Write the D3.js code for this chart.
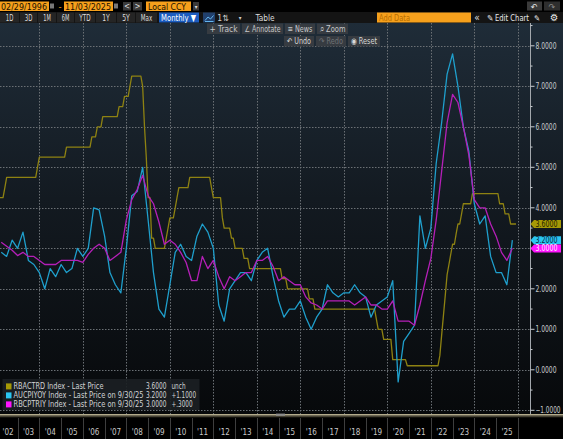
<!DOCTYPE html>
<html>
<head>
<meta charset="utf-8">
<script src="https://cdn.jsdelivr.net/npm/d3@7"></script>
<style>
  html, body { margin: 0; padding: 0; background: #000; overflow: hidden; }
  svg { display: block; font-family: "Liberation Sans Narrow", "DejaVu Sans Condensed", "Liberation Sans", sans-serif; }
</style>
</head>
<body>
<div id="canvas"></div>
<script>
console.clear();

// ---- data ----
const firstYear = 2002;

// RBACTRD, month-end, Jan 2002 .. Nov 2025
const rbaCashRate = [
  4.25, 4.25, 4.25, 4.25, 4.5, 4.75, 4.75, 4.75, 4.75, 4.75, 4.75, 4.75, // 2002
  4.75, 4.75, 4.75, 4.75, 4.75, 4.75, 4.75, 4.75, 4.75, 4.75, 5.0, 5.25, // 2003
  5.25, 5.25, 5.25, 5.25, 5.25, 5.25, 5.25, 5.25, 5.25, 5.25, 5.25, 5.25, // 2004
  5.25, 5.25, 5.5, 5.5, 5.5, 5.5, 5.5, 5.5, 5.5, 5.5, 5.5, 5.5, // 2005
  5.5, 5.5, 5.5, 5.5, 5.75, 5.75, 5.75, 6.0, 6.0, 6.0, 6.25, 6.25, // 2006
  6.25, 6.25, 6.25, 6.25, 6.25, 6.25, 6.25, 6.5, 6.5, 6.5, 6.75, 6.75, // 2007
  6.75, 7.0, 7.25, 7.25, 7.25, 7.25, 7.25, 7.25, 7.0, 6.0, 5.25, 4.25, // 2008
  4.25, 3.25, 3.25, 3.0, 3.0, 3.0, 3.0, 3.0, 3.0, 3.25, 3.5, 3.75, // 2009
  3.75, 3.75, 4.0, 4.25, 4.5, 4.5, 4.5, 4.5, 4.5, 4.5, 4.75, 4.75, // 2010
  4.75, 4.75, 4.75, 4.75, 4.75, 4.75, 4.75, 4.75, 4.75, 4.75, 4.5, 4.25, // 2011
  4.25, 4.25, 4.25, 4.25, 3.75, 3.5, 3.5, 3.5, 3.5, 3.25, 3.25, 3.0, // 2012
  3.0, 3.0, 3.0, 3.0, 2.75, 2.75, 2.75, 2.5, 2.5, 2.5, 2.5, 2.5, // 2013
  2.5, 2.5, 2.5, 2.5, 2.5, 2.5, 2.5, 2.5, 2.5, 2.5, 2.5, 2.5, // 2014
  2.5, 2.25, 2.25, 2.25, 2.0, 2.0, 2.0, 2.0, 2.0, 2.0, 2.0, 2.0, // 2015
  2.0, 2.0, 2.0, 2.0, 1.75, 1.75, 1.75, 1.5, 1.5, 1.5, 1.5, 1.5, // 2016
  1.5, 1.5, 1.5, 1.5, 1.5, 1.5, 1.5, 1.5, 1.5, 1.5, 1.5, 1.5, // 2017
  1.5, 1.5, 1.5, 1.5, 1.5, 1.5, 1.5, 1.5, 1.5, 1.5, 1.5, 1.5, // 2018
  1.5, 1.5, 1.5, 1.5, 1.5, 1.25, 1.0, 1.0, 1.0, 0.75, 0.75, 0.75, // 2019
  0.75, 0.75, 0.25, 0.25, 0.25, 0.25, 0.25, 0.25, 0.25, 0.25, 0.1, 0.1, // 2020
  0.1, 0.1, 0.1, 0.1, 0.1, 0.1, 0.1, 0.1, 0.1, 0.1, 0.1, 0.1, // 2021
  0.1, 0.1, 0.1, 0.1, 0.35, 0.85, 1.35, 1.85, 2.35, 2.6, 2.85, 3.1, // 2022
  3.1, 3.35, 3.6, 3.6, 3.85, 4.1, 4.1, 4.1, 4.1, 4.1, 4.35, 4.35, // 2023
  4.35, 4.35, 4.35, 4.35, 4.35, 4.35, 4.35, 4.35, 4.35, 4.35, 4.35, 4.35, // 2024
  4.35, 4.1, 4.1, 4.1, 3.85, 3.85, 3.85, 3.6, 3.6, 3.6, 3.6 // 2025
];

// AUCPIYOY, quarter-end, Q1 2002 .. Q3 2025
const cpiHeadline = [
  2.9, 2.8, 3.2, 3.0,   // 2002
  3.4, 2.7, 2.6, 2.4,   // 2003
  2.0, 2.5, 2.3, 2.6,   // 2004
  2.4, 2.5, 3.0, 2.8,   // 2005
  3.0, 4.0, 3.95, 3.3,  // 2006
  2.4, 2.1, 1.9, 3.0,   // 2007
  4.3, 4.4, 5.0, 3.7,   // 2008
  2.4, 1.5, 1.3, 2.1,   // 2009
  2.9, 3.1, 2.8, 2.7,   // 2010
  3.3, 3.6, 3.4, 3.0,   // 2011
  1.6, 1.2, 2.0, 2.2,   // 2012
  2.4, 2.4, 2.2, 2.7,   // 2013
  2.9, 3.0, 2.3, 1.7,   // 2014
  1.3, 1.5, 1.5, 1.7,   // 2015
  1.3, 1.0, 1.3, 1.5,   // 2016
  2.1, 1.9, 1.8, 1.9,   // 2017
  1.9, 2.1, 1.9, 1.8,   // 2018
  1.3, 1.6, 1.7, 1.8,   // 2019
  2.2, -0.3, 0.7, 0.9,  // 2020
  1.1, 3.8, 3.0, 3.5,   // 2021
  5.1, 6.1, 7.3, 7.8,   // 2022
  7.0, 6.0, 5.4, 4.1,   // 2023
  3.6, 3.8, 2.8, 2.4,   // 2024
  2.4, 2.1, 3.2         // 2025
];

// RBCPTRIY, quarter-end, Q1 2002 .. Q3 2025
const cpiTrimmed = [
  3.15, 3.05, 2.95, 2.82, // 2002
  2.9, 2.8, 2.8, 2.7,     // 2003
  2.6, 2.6, 2.6, 2.7,     // 2004
  2.7, 2.7, 2.7, 2.65,    // 2005
  2.85, 3.0, 3.1, 3.0,    // 2006
  2.7, 2.8, 2.9, 3.7,     // 2007
  4.2, 4.45, 4.8, 4.3,    // 2008
  4.1, 3.65, 3.1, 3.2,    // 2009
  3.1, 2.9, 2.65, 2.2,    // 2010
  2.2, 2.8, 2.5, 2.7,     // 2011
  2.3, 2.0, 2.3, 2.2,     // 2012
  2.3, 2.4, 2.4, 2.7,     // 2013
  2.7, 2.8, 2.55, 2.2,    // 2014
  2.3, 2.2, 2.1, 2.1,     // 2015
  1.8, 1.65, 1.6, 1.5,    // 2016
  1.7, 1.7, 1.7, 1.7,     // 2017
  1.7, 1.6, 1.7, 1.8,     // 2018
  1.6, 1.6, 1.5, 1.5,     // 2019
  1.7, 1.2, 1.2, 1.2,     // 2020
  1.1, 1.6, 2.2, 2.75,    // 2021
  3.7, 4.9, 6.1, 6.8,     // 2022
  6.6, 6.0, 5.3, 4.2,     // 2023
  4.0, 4.0, 3.6, 3.3,     // 2024
  2.9, 2.7, 3.0           // 2025
];

const yTicks = [-1, 0, 1, 2, 3, 4, 5, 6, 7, 8];
const yearLabels = ["'02", "'03", "'04", "'05", "'06", "'07", "'08", "'09", "'10", "'11", "'12", "'13",
  "'14", "'15", "'16", "'17", "'18", "'19", "'20", "'21", "'22", "'23", "'24", "'25"];

const seriesNames = [
  "RBACTRD Index - Last Price",
  "AUCPIYOY Index - Last Price on 9/30/25",
  "RBCPTRIY Index - Last Price on 9/30/25"
];
const lastValues = [3.6, 3.2, 3.0];
const changes = ["unch", "+1.1000", "+.3000"];

const rangeButtons = ["1D", "3D", "1M", "6M", "YTD", "1Y", "5Y", "Max"];

// ---- styles ----
const lineColors = ["#8e8212", "#1f9fcc", "#b51fb8"];
const tagColors = ["#a69a06", "#2ac6f2", "#ff14ff"];
const tagText = ["#1e1c00", "#06263a", "#ffe4ff"];
const orange = "#f6a01c";

render();

// squeeze a text to a given width (the screen font is narrower than ours)
function fit(sel, w) {
  return sel.attr("textLength", w).attr("lengthAdjust", "spacingAndGlyphs");
}

function render() {
  const W = 563, H = 439;
  const plotTop = 23, plotBottom = 414, plotRight = 530.5;

  const svg = d3.select("#canvas").append("svg")
    .attr("width", W).attr("height", H);

  const defs = svg.append("defs");
  const grad = defs.append("linearGradient")
    .attr("id", "bg").attr("x1", 0).attr("y1", 0).attr("x2", 0).attr("y2", 1);
  grad.append("stop").attr("offset", "0%").attr("stop-color", "#1f2c38");
  grad.append("stop").attr("offset", "45%").attr("stop-color", "#131a21");
  grad.append("stop").attr("offset", "100%").attr("stop-color", "#07090b");

  defs.append("clipPath").attr("id", "plot")
    .append("rect").attr("x", 0).attr("y", plotTop).attr("width", plotRight).attr("height", plotBottom - plotTop);

  svg.append("rect").attr("width", W).attr("height", H).attr("fill", "#000");
  svg.append("rect")
    .attr("x", 0).attr("y", plotTop).attr("width", W).attr("height", plotBottom - plotTop)
    .attr("fill", "url(#bg)");

  // scales
  const x = d3.scaleTime()
    .domain([new Date(2004, 0, 1), new Date(2026, 0, 1)])
    .range([39.4, 517.9]);
  const y = d3.scaleLinear().domain([0, 8]).range([369.8, 45.8]);

  // grid
  const grid = svg.append("g").attr("clip-path", "url(#plot)");
  grid.selectAll(".hgrid").data(yTicks).join("line")
    .attr("x1", 0).attr("x2", plotRight)
    .attr("y1", d => Math.round(y(d)) + 0.5).attr("y2", d => Math.round(y(d)) + 0.5)
    .attr("stroke", "#6b7075").attr("stroke-width", 1).attr("stroke-dasharray", "1.5,1.5");
  const gridYears = d3.timeYear.every(2).range(new Date(2002, 0, 1), new Date(2027, 0, 1));
  grid.selectAll(".vgrid").data(gridYears).join("line")
    .attr("x1", d => Math.round(x(d)) + 0.5).attr("x2", d => Math.round(x(d)) + 0.5)
    .attr("y1", plotTop).attr("y2", plotBottom)
    .attr("stroke", "#6b7075").attr("stroke-width", 1).attr("stroke-dasharray", "1.5,1.5");

  // series
  const monthly = rbaCashRate.map((v, i) => ({ date: new Date(firstYear, i + 1, 0), value: v }));
  const quarterly = arr => arr.map((v, i) => ({ date: new Date(firstYear, 3 * i + 3, 0), value: v }));
  const series = [monthly, quarterly(cpiHeadline), quarterly(cpiTrimmed)];

  const line = d3.line().x(d => x(d.date)).y(d => y(d.value));
  const lines = svg.append("g").attr("clip-path", "url(#plot)");
  lines.selectAll(".series").data(series).join("path")
    .attr("d", line)
    .attr("fill", "none")
    .attr("stroke", (d, i) => lineColors[i])
    .attr("stroke-width", 1.3)
    .attr("stroke-linejoin", "round");

  // right axis
  const axis = svg.append("g");
  axis.append("line")
    .attr("x1", plotRight).attr("x2", plotRight).attr("y1", plotTop).attr("y2", plotBottom)
    .attr("stroke", "#a3a8ad").attr("stroke-width", 1);
  const minor = d3.range(-1, 8.6, 0.5);
  axis.selectAll(".minor").data(minor).join("line")
    .attr("x1", plotRight).attr("x2", d => Number.isInteger(d) ? plotRight + 4 : plotRight + 2)
    .attr("y1", d => y(d)).attr("y2", d => y(d))
    .attr("stroke", "#c8ccd0").attr("stroke-width", 1);
  axis.selectAll(".ylab").data(yTicks).join("text")
    .attr("x", plotRight + 5).attr("y", d => y(d) + 2.8)
    .attr("font-size", 8).attr("fill", "#c9cbcd")
    .attr("textLength", d => d < 0 ? 25 : 21).attr("lengthAdjust", "spacingAndGlyphs")
    .text(d => d3.format(".4f")(d));

  // last value tags
  const tagY = lastValues.map(v => y(v));
  for (let i = 1; i < tagY.length; i++) {
    if (tagY[i] - tagY[i - 1] < 8.2) tagY[i] = tagY[i - 1] + 8.2;
  }
  const tags = svg.append("g");
  lastValues.forEach((v, i) => {
    const ty = tagY[i];
    tags.append("path")
      .attr("d", `M${plotRight},${ty} L${plotRight + 3.5},${ty - 4} L561,${ty - 4} L561,${ty + 4} L${plotRight + 3.5},${ty + 4} Z`)
      .attr("fill", tagColors[i]);
    fit(tags.append("text")
      .attr("x", 535.5).attr("y", ty + 3)
      .attr("font-size", 8.5)
      .attr("fill", tagText[i])
      .text(d3.format(".4f")(v)), 22);
  });

  // legend
  const legend = svg.append("g");
  legend.append("rect")
    .attr("x", 2.5).attr("y", 379).attr("width", 197).attr("height", 31)
    .attr("fill", "#1b1f23").attr("opacity", 0.92);
  seriesNames.forEach((name, i) => {
    const ly = 386.4 + i * 9;
    legend.append("rect").attr("x", 6).attr("y", ly - 3).attr("width", 5.5).attr("height", 6)
      .attr("fill", tagColors[i]);
    fit(legend.append("text").attr("x", 13.5).attr("y", ly + 2.8)
      .attr("font-size", 8.2).attr("fill", "#d2d4d6").text(name), i === 0 ? 90 : 130);
    fit(legend.append("text").attr("x", 146).attr("y", ly + 2.8)
      .attr("font-size", 8.2).attr("fill", "#d2d4d6").text(d3.format(".4f")(lastValues[i])), 20.5);
    fit(legend.append("text").attr("x", 171.5).attr("y", ly + 2.8)
      .attr("font-size", 8.2).attr("fill", "#d2d4d6").text(changes[i]), changes[i].length * 3.5);
  });

  // bottom time strip
  svg.append("rect").attr("x", 0).attr("y", 414).attr("width", W).attr("height", 1.6).attr("fill", "#b3ab8c");
  svg.append("rect").attr("x", 0).attr("y", 416.2).attr("width", W).attr("height", 1).attr("fill", "#55503f");
  svg.append("rect").attr("x", 276).attr("y", 413.6).attr("width", 9).attr("height", 2.2).attr("fill", "#8d8d8d");
  const strip = svg.append("g");
  const yearStarts = yearLabels.map((d, i) => new Date(firstYear + i, 0, 1));
  strip.selectAll(".sep").data(yearStarts.slice(1).concat([new Date(2026, 0, 1)])).join("line")
    .attr("x1", d => Math.round(x(d)) + 0.5).attr("x2", d => Math.round(x(d)) + 0.5)
    .attr("y1", 418).attr("y2", H)
    .attr("stroke", "#3e3e3e").attr("stroke-width", 1);
  strip.selectAll(".yl").data(yearLabels).join("text")
    .attr("x", (d, i) => Math.max(8, (x(yearStarts[i]) + x(new Date(firstYear + i + 1, 0, 1))) / 2))
    .attr("y", 435)
    .attr("text-anchor", "middle").attr("font-size", 8).attr("fill", "#c8c8c8")
    .text(d => d);

  // ---- toolbar ----
  const tb = svg.append("g").attr("font-size", 9.5);
  function box(x0, y0, w, h, fill) {
    return tb.append("rect").attr("x", x0).attr("y", y0).attr("width", w).attr("height", h).attr("fill", fill);
  }
  function label(x0, y0, txt, fill, anchor, size, w) {
    const t = tb.append("text").attr("x", x0).attr("y", y0).attr("fill", fill)
      .attr("text-anchor", anchor || "start").attr("font-size", size || 9.5).text(txt);
    return w ? fit(t, w) : t;
  }
  // row 1
  box(0, 1.5, 49, 9.5, orange);
  label(1, 9.8, "02/29/1996", "#1a1000", "start", 9.5, 46);
  box(50, 3.5, 4, 5, "#777");
  label(60, 9.5, "-", orange, "middle");
  box(64, 1.5, 49, 9.5, orange);
  label(65, 9.8, "11/03/2025", "#1a1000", "start", 9.5, 46);
  box(114, 3.5, 4, 5, "#777");
  box(123, 2, 8, 8.5, "#3a3a3a"); label(127, 9.2, "<", "#ddd", "middle", 8);
  box(133, 2, 9, 8.5, "#3a3a3a"); label(137.5, 9.2, ">", "#ddd", "middle", 8);
  box(146, 1.5, 45, 9.5, orange);
  label(148, 9.8, "Local CCY", "#1a1000", "start", 9.5, 38);
  box(193, 2, 6, 8.5, "#3a3a3a"); label(196, 8.8, "▾", "#ddd", "middle", 6);
  box(527, 1.5, 15, 9, "#3a3a3a"); label(534.5, 9.5, "↶", "#e6e6e6", "middle", 9);
  box(544, 1.5, 16, 9, "#2e2e2e"); label(552, 9.5, "↷", "#888", "middle", 9);

  // row 2
  box(0, 12, W, 11, "#141414");
  const btnEdges = [0, 20, 38, 57, 75, 96, 117, 136, 158];
  rangeButtons.forEach((b, i) => {
    box(btnEdges[i], 12.5, btnEdges[i + 1] - btnEdges[i] - 1, 10, "#252525");
    label((btnEdges[i] + btnEdges[i + 1] - 1) / 2, 20.8, b, "#dcdcdc", "middle", 9, b.length * 3.8);
  });
  box(159, 12.5, 40, 10, "#1b5cc0");
  label(161, 20.8, "Monthly ▼", "#ffffff", "start", 9.5, 35);
  box(203, 12.5, 12, 10, "#21406d");
  tb.append("path").attr("d", "M205,20.5 L208,17 L210.5,19 L213.5,15.5 M205,21.5 L213.5,21.5")
    .attr("stroke", "#6cc4ff").attr("fill", "none").attr("stroke-width", 0.9);
  label(223, 20.8, "1⇅", "#cfcfcf", "middle", 8.5);
  label(240, 19.8, "▾", "#cfcfcf", "middle", 6);
  label(265, 20.8, "Table", "#dcdcdc", "middle", 9.5, 19);
  box(377, 12.5, 94, 10, orange);
  label(379, 20.8, "Add Data", "#b76e00", "start", 9.5, 31);
  label(477, 20.8, "«", "#e0e0e0", "middle", 10);
  label(487, 20.8, "✎", "#e8e8e8", "start", 8.5);
  label(495, 20.8, "Edit Chart", "#e8e8e8", "start", 9.5, 34);
  label(537, 20.8, "✎", "#e8e8e8", "middle", 8);
  label(554, 21, "⚙", "#e8e8e8", "middle", 10);

  // floating chart tools
  const tools1 = [["+ Track", 207, 240], ["∠ Annotate", 242, 283], ["≡ News", 285, 315], ["⌕ Zoom", 317, 348]];
  tools1.forEach(([t, a, b]) => {
    box(a, 23.5, b - a, 10.5, "#363b41");
    label((a + b) / 2, 31.5, t, "#c6c8ca", "middle", 8.5, (b - a) - 5);
  });
  const tools2 = [["↶ Undo", 284, 314, "#d8d8d8"], ["↷ Redo", 316, 346, "#6e7276"], ["◉ Reset", 348, 380, "#d8d8d8"]];
  tools2.forEach(([t, a, b, c]) => {
    box(a, 36, b - a, 10.5, "#363b41");
    label((a + b) / 2, 44, t, c, "middle", 8.5, (b - a) - 6);
  });
}
</script>
</body>
</html>
